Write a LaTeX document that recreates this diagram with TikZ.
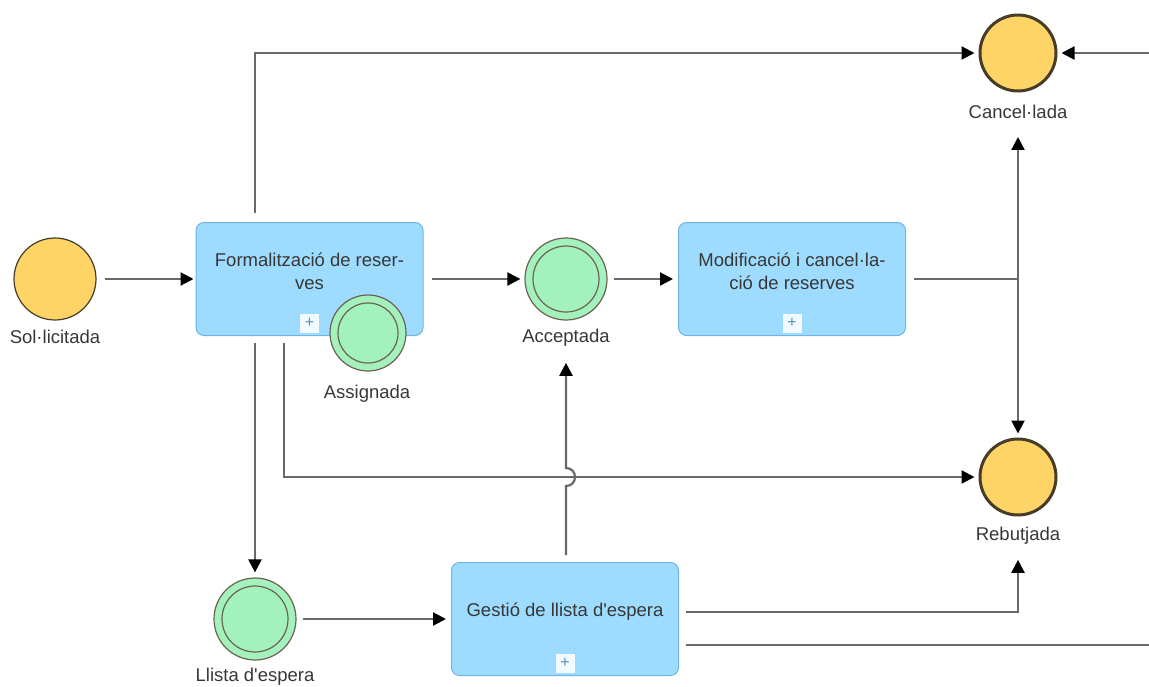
\documentclass[tikz,border=0pt]{standalone}
\usepackage{fontspec}
\setmainfont{Liberation Sans}
\usepackage{tikz}
\usetikzlibrary{arrows.meta}

\definecolor{evyellow}{RGB}{255,212,102}
\definecolor{evgreen}{RGB}{163,242,190}
\definecolor{taskblue}{RGB}{158,220,255}
\definecolor{taskline}{RGB}{110,180,230}
\definecolor{evline}{RGB}{70,60,40}
\definecolor{flowgray}{RGB}{105,105,105}
\definecolor{txtgray}{RGB}{55,55,55}

\begin{document}
\begin{tikzpicture}[x=1pt, y=-1pt,
  font=\fontsize{18.5}{23}\selectfont, text=txtgray,
  flow/.style={draw=flowgray, line width=2.2pt, -{Triangle[length=13pt, width=13pt, black]}},
  plainflow/.style={draw=flowgray, line width=2.2pt},
  task/.style={draw=taskline, fill=taskblue, rounded corners=8pt, line width=1pt,
    minimum width=227pt, minimum height=113pt, inner sep=0pt},
  plusbox/.style={fill=white!85!taskblue, minimum size=19pt, inner sep=0pt,
    text=taskline!80!black, font=\fontsize{16}{16}\selectfont},
  startev/.style={circle, draw=evline, fill=evyellow, line width=1.2pt, minimum size=82pt, inner sep=0pt},
  endev/.style={circle, draw=evline, fill=evyellow, line width=3pt, minimum size=76pt, inner sep=0pt},
  midev/.style={circle, draw=evline!80, fill=evgreen, line width=1.2pt, minimum size=#1, inner sep=0pt,
    path picture={\draw[evline!80, line width=1.2pt] (path picture bounding box.center) circle (0.5*#1-8pt);}},
  midev/.default=82pt,
  evlabel/.style={inner sep=0pt}]

\useasboundingbox (0,0) rectangle (1149,686);

% events
\node[startev] (sol) at (55,279) {};
\node[evlabel] (solL) at (55,337) {Sol·licitada};
\node[endev] (canc) at (1018,53) {};
\node[evlabel] (cancL) at (1018,112) {Cancel·lada};
\node[endev] (rebu) at (1018,477) {};
\node[evlabel] (rebuL) at (1018,536) {Rebutjada};
\node[midev] (acce) at (566,279) {};
\node[evlabel] (acceL) at (566,338) {Acceptada};
\node[midev] (llis) at (255,619) {};
\node[evlabel] (llisL) at (255,677) {Llista d\textquotesingle espera};

% tasks
\node[task] (form) at (309.5,279) {};
\node[align=center, inner sep=0pt] (formT) at (309.5,271) {Formalització de reser-\\ves};
\node[plusbox] (formP) at (309.5,323) {+};
\node[task] (modi) at (792,279) {};
\node[align=center, inner sep=0pt] (modiT) at (792,271) {Modificació i cancel·la-\\ció de reserves};
\node[plusbox] (modiP) at (792,323) {+};
\node[task] (gest) at (565,619) {};
\node[inner sep=0pt] (gestT) at (565,612) {Gestió de llista d\textquotesingle espera};
\node[plusbox] (gestP) at (565,663) {+};

% boundary event on the first task
\node[midev=76pt] (assi) at (368,333) {};
\node[evlabel] (assiL) at (367,394) {Assignada};

% connectors
\coordinate (join) at (1018,279);
\coordinate (offA) at (1149,53);
\coordinate (offB) at (1149,645);
\draw[flow, shorten <=8pt, shorten >=2pt] (sol) -- (form);
\draw[flow, shorten <=8pt, shorten >=4pt] (form.east) -- (acce);
\draw[flow, shorten <=6pt, shorten >=5pt] (acce) -- (modi.west);
\draw[flow, shorten <=9pt, shorten >=4pt] (255,222) -- (255,53) -- (canc);
\draw[flow, shorten >=4pt] (offA) -- (canc);
\draw[plainflow, shorten <=8pt] (modi.east) -- (join);
\draw[flow, shorten >=18pt] (join) -- (cancL);
\draw[flow, shorten >=4pt] (join) -- (rebu);
\draw[flow, shorten <=8pt, shorten >=4pt] (284,335) -- (284,477) -- (rebu);
\draw[flow, shorten <=8pt, shorten >=5pt] (255,335) -- (llis);
\draw[flow, shorten <=6pt, shorten >=5pt] (llis) -- (gest.west);
\draw[flow, shorten <=7pt, shorten >=16pt] (gest.north -| acce) -- (566,486)
  .. controls (578,486) and (578,468) .. (566,468) -- (acceL);
\draw[flow, shorten <=8pt, shorten >=15pt] (678,612) -- (1018,612) -- (rebuL);
\draw[plainflow, shorten <=8pt] (678,645) -- (offB);

\end{tikzpicture}
\end{document}
